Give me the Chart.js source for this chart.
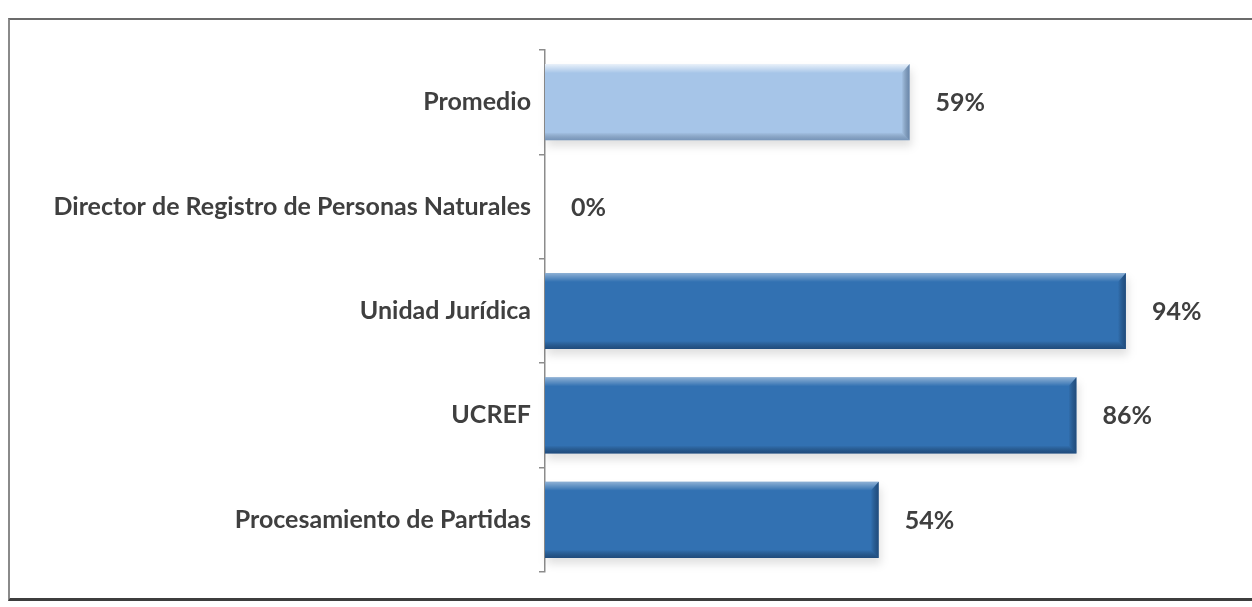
<!DOCTYPE html>
<html>
<head>
<meta charset="utf-8">
<script src="https://cdn.jsdelivr.net/npm/chart.js@4.4.0/dist/chart.umd.min.js"></script>
<style>
    body { margin: 0; background: #fff; }
    #wrap { position: relative; width: 1252px; height: 607px; }
    #frame {
        position: absolute; left: 8px; top: 18px; width: 1250px; height: 578px;
        border-top: 2px solid #6b6b6b; border-left: 2px solid #8a8a8a; border-bottom: 3px solid #3d3d3d;
    }
    canvas { position: absolute; left: 0; top: 0; }
</style>
</head>
<body>
<div id="wrap">
    <div id="frame"></div>
    <canvas id="myChart" width="1252" height="607"></canvas>
</div>
<script>
const categories = ['Promedio', 'Director de Registro de Personas Naturales', 'Unidad Jurídica', 'UCREF', 'Procesamiento de Partidas'];
const values = [59, 0, 94, 86, 54];
const barColors = ['#a6c5e8', '#3271b2', '#3271b2', '#3271b2', '#3271b2'];

// bevelled look: light top edge, dark bottom/right edge, soft shadow below
const bevel = {
    id: 'bevel',
    beforeDatasetsDraw(chart) {
        const ctx = chart.ctx;
        chart.getDatasetMeta(0).data.forEach(function(bar) {
            const w = bar.x - bar.base;
            if (w <= 0) return;
            const top = bar.y - bar.height / 2;
            ctx.save();
            ctx.fillStyle = 'rgba(0,0,0,0.12)';
            ctx.filter = 'blur(4px)';
            ctx.fillRect(bar.base + 2, top + 6, w, bar.height);
            ctx.restore();
        });
    },
    afterDatasetsDraw(chart) {
        const ctx = chart.ctx;
        chart.getDatasetMeta(0).data.forEach(function(bar, i) {
            const w = bar.x - bar.base;
            if (w <= 0) return;
            const x = bar.base, top = bar.y - bar.height / 2, h = bar.height;
            const light = i === 0;
            ctx.save();
            // top highlight
            let g = ctx.createLinearGradient(0, top, 0, top + 9);
            g.addColorStop(0, light ? 'rgba(255,255,255,0.75)' : 'rgba(255,255,255,0.45)');
            g.addColorStop(1, 'rgba(255,255,255,0)');
            ctx.fillStyle = g;
            ctx.beginPath();
            ctx.moveTo(x, top); ctx.lineTo(x + w, top); ctx.lineTo(x + w - 8, top + 9); ctx.lineTo(x, top + 9);
            ctx.fill();
            // bottom shade
            g = ctx.createLinearGradient(0, top + h - 8, 0, top + h);
            g.addColorStop(0, 'rgba(0,0,0,0)');
            g.addColorStop(1, light ? 'rgba(30,60,100,0.35)' : 'rgba(10,30,60,0.45)');
            ctx.fillStyle = g;
            ctx.beginPath();
            ctx.moveTo(x, top + h - 8); ctx.lineTo(x + w - 8, top + h - 8); ctx.lineTo(x + w, top + h); ctx.lineTo(x, top + h);
            ctx.fill();
            // right edge
            g = ctx.createLinearGradient(x + w - 8, 0, x + w, 0);
            g.addColorStop(0, 'rgba(0,0,0,0)');
            g.addColorStop(1, light ? 'rgba(30,60,100,0.45)' : 'rgba(10,30,60,0.45)');
            ctx.fillStyle = g;
            ctx.beginPath();
            ctx.moveTo(x + w - 8, top + 9); ctx.lineTo(x + w, top); ctx.lineTo(x + w, top + h); ctx.lineTo(x + w - 8, top + h - 8);
            ctx.fill();
            ctx.restore();
        });
    }
};

// percent labels at the end of each bar
const valueLabels = {
    id: 'valueLabels',
    afterDatasetsDraw(chart) {
        const ctx = chart.ctx;
        ctx.save();
        ctx.font = 'bold 25px Lato';
        ctx.fillStyle = '#3f3f3f';
        ctx.textBaseline = 'middle';
        chart.getDatasetMeta(0).data.forEach(function(bar, i) {
            ctx.fillText(values[i] + '%', bar.x + 26, bar.y + 1);
        });
        ctx.restore();
    }
};

const ctx = document.getElementById('myChart').getContext('2d');
const myChart = new Chart(ctx, {
    type: 'bar',
    data: {
        labels: categories,
        datasets: [{
            data: values,
            backgroundColor: barColors,
            borderWidth: 0,
            categoryPercentage: 1,
            barPercentage: 0.73
        }]
    },
    options: {
        indexAxis: 'y',
        responsive: false,
        animation: false,
        layout: { padding: { left: 8, top: 50, bottom: 35, right: 89 } },
        plugins: { legend: { display: false }, tooltip: { enabled: false } },
        scales: {
            x: { display: false, min: 0, max: 100 },
            y: {
                afterFit: function(scale) { scale.width = 537; },
                border: { display: true, color: '#8c8c8c', width: 1.5 },
                grid: { drawOnChartArea: false, tickLength: 6, color: '#8c8c8c', lineWidth: 1.5 },
                ticks: { color: '#3f3f3f', padding: 8, font: { family: 'Lato', size: 25, weight: 'bold' } }
            }
        }
    },
    plugins: [bevel, valueLabels]
});
</script>
</body>
</html>
